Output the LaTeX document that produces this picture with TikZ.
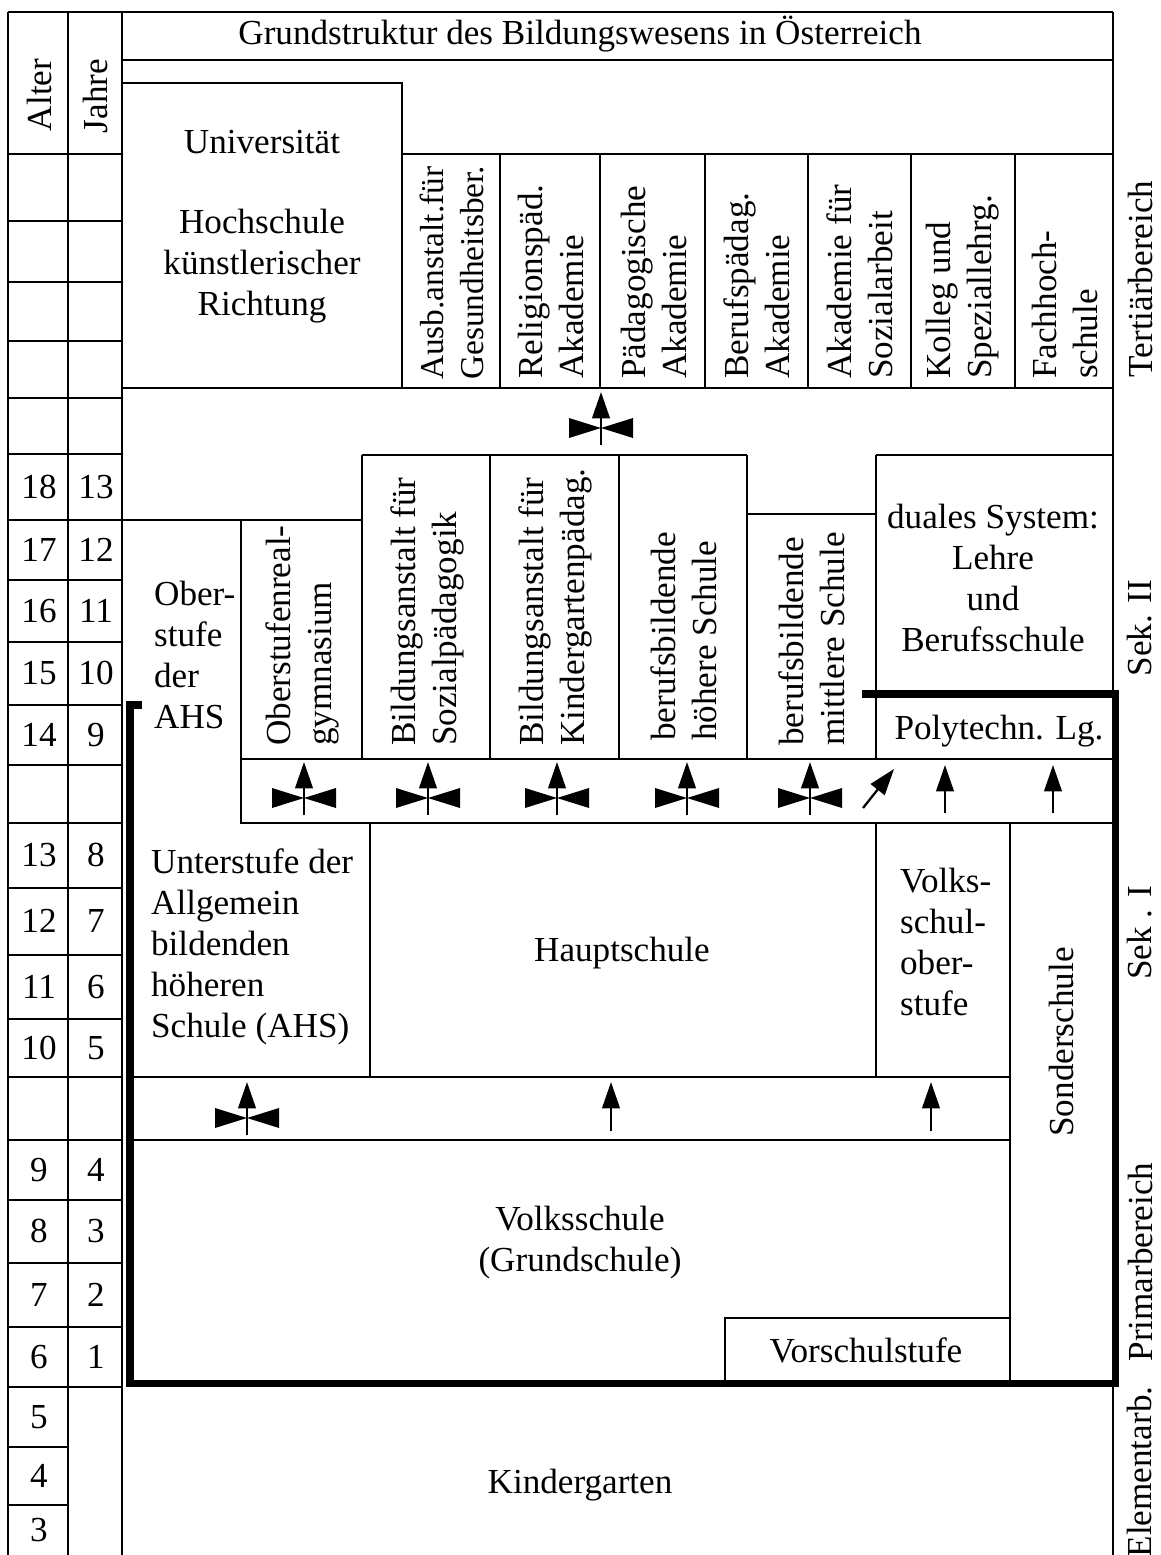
\documentclass[tikz,border=0pt]{standalone}
\usepackage{fontspec}
\setmainfont{Liberation Serif}
\usepackage{tikz}
\usetikzlibrary{arrows.meta}
\tikzset{
  txt/.style={font=\fontsize{20}{23.3}\selectfont, inner sep=0pt},
  vtxt/.style={txt, rotate=90, anchor=west, align=left},
  pfeil/.style={-{Triangle[length=15pt,width=10pt]}},
  dick/.style={line width=4pt, line cap=butt, line join=miter}
}
% arrow with bowtie (x, y of the bowtie centre)
\newcommand{\weiche}[2]{%
  \draw[pfeil] (#1,#2+17) -- (#1,#2-36);
  \fill (#1-32,#2-10) -- (#1,#2) -- (#1-32,#2+10) -- cycle;
  \fill (#1+32,#2-10) -- (#1,#2) -- (#1+32,#2+10) -- cycle;
}

\begin{document}
\begin{tikzpicture}[x=0.02cm, y=-0.02cm, line width=1.3pt]
\useasboundingbox (0,0) rectangle (1160,1555);
% frame and age columns
\draw (8,12) -- (1113,12);
\draw (8,12) -- (8,1555);
\draw (68,12) -- (68,1555);
\draw (122,12) -- (122,1555);
\draw (1113,12) -- (1113,1555);
\foreach \y in {154,221,282,341,398,454,520,580,642,705,765,823,888,955,1019,1077,1140,1200,1263,1327,1387} { \draw (8,\y) -- (122,\y); }
\foreach \y in {1447,1505} { \draw (8,\y) -- (68,\y); }
\node[txt, rotate=90] (alter) at (39,95) {Alter};
\node[txt, rotate=90] (jahre) at (95,96) {Jahre};
\foreach \y/\a/\j in {487/18/13, 550/17/12, 611/16/11, 673/15/10, 735/14/9, 855/13/8, 921/12/7, 987/11/6, 1048/10/5, 1170/9/4, 1231/8/3, 1295/7/2, 1357/6/1} {
  \node[txt] (alter\a) at (39,\y) {\a};
  \node[txt] (jahre\j) at (96,\y) {\j};
}
\foreach \y/\a in {1417/5, 1476/4, 1530/3} { \node[txt] (klein\a) at (39,\y) {\a}; }
% title
\draw (122,60) -- (1113,60);
\node[txt] (titel) at (580,34) {Grundstruktur des Bildungswesens in Österreich};
% tertiary level
\draw (122,83) -- (402,83) -- (402,388);
\draw (402,154) -- (1113,154);
\foreach \x in {500,600,705,808,911,1015} { \draw (\x,154) -- (\x,388); }
\draw (122,388) -- (1113,388);
\node[txt] (uni) at (262,142) {Universität};
\node[txt, align=center] (kunst) at (262,266) {Hochschule\\künstlerischer\\Richtung};
\node[vtxt, font=\fontsize{19}{23.3}\selectfont] (gesund) at (452,381) {Ausb.anstalt.für\\Gesundheitsber.};
\node[vtxt] (relpaed) at (551,380) {Religionspäd.\\Akademie};
\node[vtxt] (paedak) at (654,380) {Pädagogische\\Akademie};
\node[vtxt] (berufak) at (757,380) {Berufspädag.\\Akademie};
\node[vtxt] (sozial) at (860,380) {Akademie für\\Sozialarbeit};
\node[vtxt] (kolleg) at (963,380) {Kolleg und\\Speziallehrg.};
\node[vtxt] (fh) at (1065,380) {Fachhoch-\\schule};
\weiche{601}{428}
% upper secondary level
\draw (122,520) -- (362,520);
\draw (241,520) -- (241,823) -- (1113,823);
\draw (362,455) -- (747,455);
\draw (747,514) -- (876,514);
\draw (876,455) -- (1113,455);
\foreach \x in {362,490,619,747,876} { \draw (\x,455) -- (\x,759); }
\draw (241,759) -- (1113,759);
\node[txt, align=left, anchor=west] (oberahs) at (153,655) {Ober-\\stufe\\der\\AHS};
\node[vtxt] (org) at (302,747) {Oberstufenreal-\\gymnasium};
\node[vtxt] (bsp) at (427,747) {Bildungsanstalt für\\Sozialpädagogik};
\node[vtxt] (bkp) at (555,747) {Bildungsanstalt für\\Kindergartenpädag.};
\node[vtxt] (bhs) at (684,742) {berufsbildende\\höhere Schule};
\node[vtxt] (bms) at (812,747) {berufsbildende\\mittlere Schule};
\node[txt, align=center] (dual) at (993,578) {duales System:\\Lehre\\und\\Berufsschule};
\node[txt] (poly) at (999,731) {Polytechn. Lg.};
\foreach \x in {304,428,557,687,810} { \weiche{\x}{798} }
\draw[pfeil] (863,808) -- (894,769);
\draw[pfeil] (945,813) -- (945,765);
\draw[pfeil] (1053,813) -- (1053,765);
% lower secondary and primary level
\draw (370,823) -- (370,1077);
\draw (876,823) -- (876,1077);
\draw (1010,823) -- (1010,1385);
\draw (130,1077) -- (1010,1077);
\draw (130,1140) -- (1010,1140);
\draw (725,1385) -- (725,1318) -- (1010,1318);
\node[txt, align=left, anchor=west] (unterahs) at (150,947) {Unterstufe der\\Allgemein\\bildenden\\höheren\\Schule (AHS)};
\node[txt] (haupt) at (622,953) {Hauptschule};
\node[txt, align=left, anchor=west] (vso) at (899,942) {Volks-\\schul-\\ober-\\stufe};
\node[txt, rotate=90] (sonder) at (1061,1042) {Sonderschule};
\weiche{247}{1118}
\draw[pfeil] (611,1131) -- (611,1082);
\draw[pfeil] (931,1131) -- (931,1082);
\node[txt, align=center] (volks) at (580,1243) {Volksschule\\(Grundschule)};
\node[txt] (vorschul) at (866,1350) {Vorschulstufe};
\node[txt] (kiga) at (580,1485) {Kindergarten};
% compulsory schooling border
\draw[dick] (142,705) -- (130,705) -- (130,1383) -- (1115,1383) -- (1115,694) -- (862,694);
% level labels
\node[txt, rotate=90] (tertiaer) at (1140,279) {Tertiärbereich};
\node[txt, rotate=90] (sek2) at (1140,628) {Sek. II};
\node[txt, rotate=90] (sek1) at (1140,933) {Sek . I};
\node[txt, rotate=90] (primar) at (1140,1262) {Primarbereich};
\node[txt, rotate=90] (element) at (1140,1472) {Elementarb.};
\end{tikzpicture}
\end{document}
